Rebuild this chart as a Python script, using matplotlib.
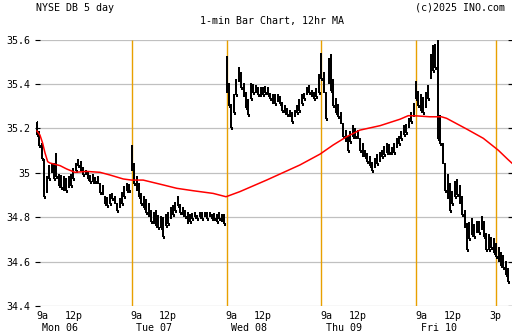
import matplotlib
matplotlib.use('Agg')
import matplotlib.pyplot as plt

plt.rcParams['font.family'] = ['DejaVu Sans Mono']
plt.rcParams['font.size'] = 7.2

# ---- data (10-minute bars, high / low per bar) ----
day_names = ['Mon 06', 'Tue 07', 'Wed 08', 'Thu 09', 'Fri 10']
day_minutes = 390          # trading minutes per session
bar_minutes = 10

mon_high = [35.23, 35.19, 35.13, 35.06, 34.98, 35.03, 35.04, 35.04, 35.09, 34.99,
            34.99, 34.98, 34.97, 34.98, 34.99, 35.02, 35.04, 35.06, 35.05, 35.02,
            35.01, 35.00, 34.99, 34.99, 34.98, 34.98, 34.95, 34.94, 34.89, 34.89,
            34.90, 34.91, 34.89, 34.86, 34.88, 34.91, 34.94, 34.95, 34.95]
mon_low = [35.17, 35.12, 35.06, 34.89, 34.91, 34.97, 35.00, 34.97, 34.98, 34.94,
           34.93, 34.92, 34.92, 34.93, 34.94, 34.97, 35.01, 35.03, 35.01, 34.99,
           34.99, 34.97, 34.96, 34.96, 34.96, 34.95, 34.91, 34.90, 34.86, 34.85,
           34.86, 34.88, 34.86, 34.83, 34.84, 34.86, 34.89, 34.92, 34.92]

tue_high = [35.12, 35.04, 34.98, 34.95, 34.91, 34.89, 34.88, 34.86, 34.83, 34.82,
            34.83, 34.81, 34.80, 34.80, 34.81, 34.82, 34.84, 34.85, 34.87, 34.89,
            34.86, 34.84, 34.83, 34.82, 34.81, 34.82, 34.82, 34.81, 34.82, 34.82,
            34.82, 34.82, 34.82, 34.81, 34.82, 34.81, 34.82, 34.81, 34.81]
tue_low = [35.01, 34.95, 34.92, 34.89, 34.86, 34.84, 34.82, 34.80, 34.78, 34.77,
           34.76, 34.75, 34.75, 34.71, 34.76, 34.77, 34.79, 34.81, 34.83, 34.85,
           34.82, 34.81, 34.80, 34.77, 34.78, 34.79, 34.80, 34.79, 34.80, 34.79,
           34.80, 34.79, 34.80, 34.79, 34.79, 34.78, 34.79, 34.78, 34.77]

wed_high = [35.52, 35.40, 35.31, 35.35, 35.42, 35.47, 35.45, 35.40, 35.36, 35.33,
            35.40, 35.40, 35.39, 35.38, 35.38, 35.38, 35.39, 35.38, 35.36, 35.35,
            35.35, 35.35, 35.34, 35.32, 35.30, 35.29, 35.28, 35.27, 35.28, 35.30,
            35.33, 35.35, 35.36, 35.38, 35.39, 35.37, 35.36, 35.38, 35.44]
wed_low = [35.36, 35.30, 35.20, 35.27, 35.35, 35.41, 35.38, 35.34, 35.29, 35.26,
           35.33, 35.36, 35.36, 35.35, 35.34, 35.35, 35.36, 35.35, 35.33, 35.31,
           35.31, 35.32, 35.31, 35.28, 35.27, 35.26, 35.25, 35.23, 35.25, 35.27,
           35.28, 35.31, 35.33, 35.35, 35.36, 35.34, 35.33, 35.34, 35.36]

thu_high = [35.54, 35.45, 35.36, 35.51, 35.53, 35.42, 35.33, 35.31, 35.27, 35.22,
            35.19, 35.16, 35.19, 35.21, 35.20, 35.19, 35.15, 35.13, 35.10, 35.09,
            35.07, 35.05, 35.06, 35.08, 35.09, 35.10, 35.12, 35.13, 35.13, 35.11,
            35.13, 35.15, 35.16, 35.19, 35.21, 35.22, 35.24, 35.27, 35.31]
thu_low = [35.42, 35.36, 35.24, 35.40, 35.37, 35.30, 35.27, 35.25, 35.22, 35.16,
           35.14, 35.10, 35.14, 35.16, 35.16, 35.15, 35.10, 35.07, 35.07, 35.05,
           35.03, 35.01, 35.02, 35.04, 35.05, 35.07, 35.08, 35.09, 35.09, 35.08,
           35.09, 35.11, 35.13, 35.15, 35.17, 35.18, 35.20, 35.23, 35.25]

fri_high = [35.41, 35.37, 35.35, 35.34, 35.36, 35.39, 35.53, 35.57, 35.58, 35.60,
            35.26, 35.13, 35.04, 34.99, 34.95, 34.92, 34.96, 34.97, 34.94, 34.89,
            34.83, 34.77, 34.78, 34.79, 34.77, 34.78, 34.78, 34.80, 34.78, 34.73,
            34.72, 34.71, 34.70, 34.68, 34.66, 34.64, 34.63, 34.60, 34.57]
fri_low = [35.33, 35.30, 35.28, 35.27, 35.29, 35.33, 35.42, 35.46, 35.47, 35.15,
           35.13, 35.04, 34.92, 34.88, 34.83, 34.86, 34.89, 34.90, 34.86, 34.81,
           34.75, 34.65, 34.70, 34.72, 34.71, 34.73, 34.73, 34.74, 34.71, 34.65,
           34.65, 34.66, 34.64, 34.62, 34.60, 34.58, 34.57, 34.54, 34.51]

day_highs = [mon_high, tue_high, wed_high, thu_high, fri_high]
day_lows = [mon_low, tue_low, wed_low, thu_low, fri_low]

# 12hr moving average (read at points, x in trading minutes from Mon open)
ma_minutes = [0, 12, 23, 33, 44, 53, 95, 122, 156, 205, 259, 300, 355, 389, 437,
              520, 575, 643, 725, 778, 835, 945, 1082, 1165, 1219, 1274, 1329,
              1412, 1494, 1528, 1563, 1617, 1665, 1686, 1768, 1837, 1898, 1938, 1955]
ma_values = [35.188, 35.170, 35.134, 35.089, 35.050, 35.044, 35.032, 35.017, 35.002,
             35.006, 35.002, 34.990, 34.972, 34.967, 34.967, 34.945, 34.930, 34.919,
             34.907, 34.892, 34.915, 34.967, 35.035, 35.084, 35.125, 35.162, 35.192,
             35.212, 35.241, 35.257, 35.256, 35.252, 35.252, 35.245, 35.197, 35.155,
             35.102, 35.060, 35.043]

y_ticks = [34.4, 34.6, 34.8, 35.0, 35.2, 35.4, 35.6]
y_tick_labels = ['34.4', '34.6', '34.8', '35', '35.2', '35.4', '35.6']
hour_labels = ['9a', '12p']
hour_offsets = [0, 150]
marker_minutes = [390, 780, 1170, 1560, 1890]   # orange vertical markers
fri_extra_label = ('3p', 1890)

# ---- figure ----
W, H = 512, 335
fig = plt.figure(figsize=(W / 100, H / 100), dpi=100)
ax_left, ax_right, ax_top, ax_bot = 37, 512, 39.5, 306
ax = fig.add_axes([ax_left / W, 1 - ax_bot / H, (ax_right - ax_left) / W,
                   (ax_bot - ax_top) / H])
x_max = 1955
grid_end = 1938
ax.set_xlim(0, x_max)
ax.set_ylim(34.4, 35.6)
for s in ax.spines.values():
    s.set_visible(False)

# grid
ax.hlines(y_ticks, 0, grid_end, color='#C0C0C0', lw=0.9, zorder=0)
ax.hlines(y_ticks, grid_end, x_max, color='black', lw=0.9, zorder=0)
ax.vlines(marker_minutes, 34.4, 35.6, color='#E8A000', lw=1.0, zorder=1)

# bars
for d in range(5):
    xs = [d * day_minutes + i * bar_minutes for i in range(len(day_highs[d]))]
    ax.vlines(xs, day_lows[d], day_highs[d], color='black', lw=1.25, zorder=2,
              antialiased=False, clip_on=False)
    ax.hlines(day_highs[d], [x - 3 for x in xs], xs, color='black', lw=0.8,
              zorder=2, antialiased=False)
    ax.hlines(day_lows[d], xs, [x + 3 for x in xs], color='black', lw=0.8,
              zorder=2, antialiased=False)

# MA
ax.plot(ma_minutes, ma_values, color='#FF0000', lw=1.1, zorder=3, clip_on=False)

# y ticks
ax.set_yticks(y_ticks)
ax.set_yticklabels(y_tick_labels)
ax.tick_params(axis='y', left=True, right=False, direction='inout', length=3.6,
               width=0.8, pad=3.3, colors='black')
ax.set_xticks([])

# x labels
px = 0.72
for d in range(5):
    base = d * day_minutes
    ax.annotate(hour_labels[0], xy=(base + hour_offsets[0], 0),
                xycoords=('data', 'axes fraction'),
                xytext=(-1 * px, -10 * px), textcoords='offset points',
                ha='left', va='center')
    ax.annotate(hour_labels[1], xy=(base + hour_offsets[1], 0),
                xycoords=('data', 'axes fraction'),
                xytext=(0, -10 * px), textcoords='offset points',
                ha='center', va='center')
    ax.annotate(day_names[d], xy=(base, 0), xycoords=('data', 'axes fraction'),
                xytext=(4.5 * px, -22 * px), textcoords='offset points',
                ha='left', va='center')
ax.annotate(fri_extra_label[0], xy=(fri_extra_label[1], 0),
            xycoords=('data', 'axes fraction'),
            xytext=(-1 * px, -10 * px), textcoords='offset points',
            ha='center', va='center')

fig.text(36 / W, 1 - 8 / H, 'NYSE DB 5 day', ha='left', va='center')
fig.text(505 / W, 1 - 8 / H, '(c)2025 INO.com', ha='right', va='center')
fig.text(272 / W, 1 - 21 / H, '1-min Bar Chart, 12hr MA', ha='center', va='center')

fig.savefig('out.png', dpi=100, facecolor='white')
